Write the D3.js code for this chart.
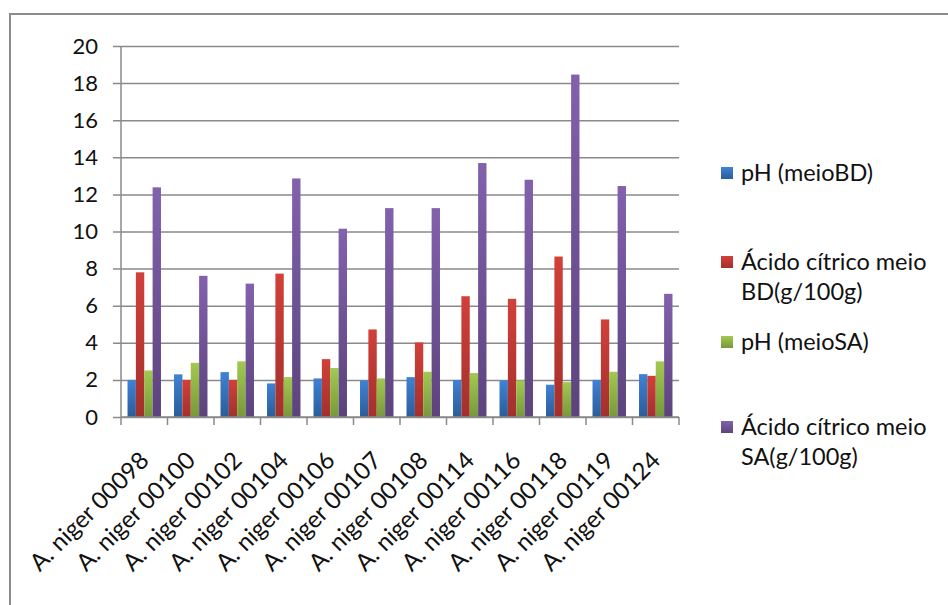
<!DOCTYPE html>
<html>
<head>
<meta charset="utf-8">
<script src="https://cdn.jsdelivr.net/npm/d3@7"></script>
<style>
  html, body { margin: 0; padding: 0; background: #fff; }
  svg { display: block; }
  text { font-family: Lato, "Liberation Sans", sans-serif; fill: #111; }
</style>
</head>
<body>
<svg id="chart" width="948" height="605"></svg>
<script>
// Strains of A. niger tested
const strains = [
  "A. niger 00098", "A. niger 00100", "A. niger 00102", "A. niger 00104",
  "A. niger 00106", "A. niger 00107", "A. niger 00108", "A. niger 00114",
  "A. niger 00116", "A. niger 00118", "A. niger 00119", "A. niger 00124"
];

// Series labels (legend lines)
const seriesNames = [
  ["pH (meioBD)"],
  ["Ácido cítrico meio", "BD(g/100g)"],
  ["pH (meioSA)"],
  ["Ácido cítrico meio", "SA(g/100g)"]
];

// Values per series, one per strain
const phBD     = [2.0, 2.3, 2.42, 1.81, 2.08, 1.97, 2.15, 2.0, 1.97, 1.74, 2.0, 2.31];
const citricBD = [7.8, 2.0, 2.0, 7.73, 3.12, 4.72, 4.02, 6.51, 6.37, 8.65, 5.26, 2.22];
const phSA     = [2.51, 2.92, 3.0, 2.15, 2.64, 2.08, 2.44, 2.37, 1.97, 1.88, 2.44, 3.0];
const citricSA = [12.38, 7.61, 7.19, 12.86, 10.15, 11.26, 11.26, 13.69, 12.79, 18.46, 12.45, 6.64];

const yTicks = [0, 2, 4, 6, 8, 10, 12, 14, 16, 18, 20];

const seriesValues = [phBD, citricBD, phSA, citricSA];
const colorsTop    = ["#3f82d4", "#d2403a", "#a2c951", "#8261ad"];
const colorsBottom = ["#2b5c99", "#a3302c", "#78983a", "#5c437d"];

const svg = d3.select("#chart");

// Outer frame
svg.append("path")
  .attr("d", "M10,606 V14 H949")
  .attr("fill", "none")
  .attr("stroke", "#8c8c8c")
  .attr("stroke-width", 2);

const plot = { left: 121, right: 679, top: 46, bottom: 417 };

const x0 = d3.scaleBand().domain(strains).range([plot.left, plot.right]).padding(0);
const x1 = d3.scaleBand().domain(d3.range(4)).range([0, x0.bandwidth()]).paddingInner(0).paddingOuter(0.78);
const y = d3.scaleLinear().domain([0, 20]).range([plot.bottom, plot.top]);

// Gradients for the bars
const defs = svg.append("defs");
colorsTop.forEach((c, i) => {
  const g = defs.append("linearGradient")
    .attr("id", "grad" + i).attr("x1", 0).attr("y1", 0).attr("x2", 0).attr("y2", 1);
  g.append("stop").attr("offset", "0%").attr("stop-color", c);
  g.append("stop").attr("offset", "100%").attr("stop-color", colorsBottom[i]);
});

// Gridlines with left ticks
const yAxis = d3.axisLeft(y).tickValues(yTicks)
  .tickSize(-(plot.right - plot.left + 8)).tickPadding(14).tickFormat(d3.format("d"));
const gy = svg.append("g").attr("transform", `translate(${plot.left - 8},0)`).call(yAxis);
gy.select(".domain").remove();
gy.selectAll(".tick line").attr("stroke", "#8a8a8a").attr("stroke-width", 1.5);
gy.selectAll(".tick text")
  .attr("x", -15)
  .style("font-size", "22px")
  .attr("fill", "#111");

// Bars
const groups = svg.append("g").selectAll("g")
  .data(strains).join("g")
  .attr("transform", d => `translate(${x0(d)},0)`);

groups.selectAll("rect")
  .data((d, i) => seriesValues.map((vals, s) => ({ s, v: vals[i] })))
  .join("rect")
  .attr("x", d => x1(d.s))
  .attr("width", x1.bandwidth())
  .attr("y", d => y(d.v))
  .attr("height", d => y(0) - y(d.v))
  .attr("fill", d => `url(#grad${d.s})`);

// Value axis line
svg.append("line")
  .attr("x1", plot.left).attr("x2", plot.left)
  .attr("y1", plot.top).attr("y2", plot.bottom)
  .attr("stroke", "#8a8a8a").attr("stroke-width", 1.5);

// Category axis with boundary ticks
const gx = svg.append("g").attr("transform", `translate(0,${plot.bottom})`);
gx.append("line")
  .attr("x1", plot.left).attr("x2", plot.right)
  .attr("stroke", "#8a8a8a").attr("stroke-width", 1.5);
const bounds = strains.map(s => x0(s)).concat([plot.right]);
gx.selectAll("line.tk").data(bounds).join("line")
  .attr("class", "tk")
  .attr("x1", d => d).attr("x2", d => d)
  .attr("y1", 0).attr("y2", 8)
  .attr("stroke", "#8a8a8a").attr("stroke-width", 1.5);

// Rotated category labels
gx.selectAll("text.lbl").data(strains).join("text")
  .attr("class", "lbl")
  .attr("text-anchor", "end")
  .attr("transform", d => `translate(${x0(d) + x0.bandwidth() / 2 + 6},45) rotate(-45)`)
  .style("font-size", "24px")
  .text(d => d);

// Legend
const legendRows = [173, 262, 342, 427];
const legend = svg.append("g");
seriesNames.forEach((lines, i) => {
  const cy = legendRows[i];
  legend.append("rect")
    .attr("x", 721).attr("y", cy - 6)
    .attr("width", 12).attr("height", 12)
    .attr("fill", `url(#grad${i})`);
  const t = legend.append("text")
    .attr("x", 741).attr("y", cy)
    .style("font-size", "23.5px");
  lines.forEach((ln, k) => {
    t.append("tspan").attr("x", 741).attr("dy", k === 0 ? "0.35em" : "30px").text(ln);
  });
});
</script>
</body>
</html>
